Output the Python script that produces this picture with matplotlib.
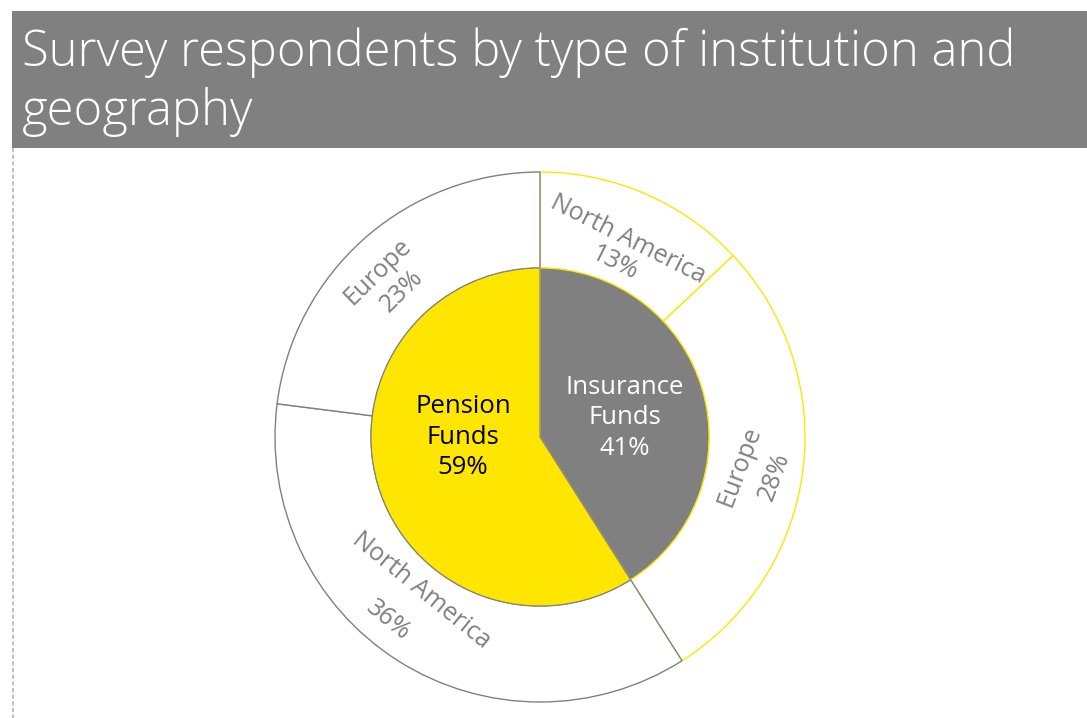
import matplotlib
matplotlib.use("Agg")
import matplotlib.pyplot as plt
from matplotlib.patches import Rectangle

W, H = 1087, 718

title_lines = ["Survey respondents by type of institution and", "geography"]
inner_labels = ["Insurance\nFunds\n41%", "Pension\nFunds\n59%"]
inner_values = [41, 59]
outer_regions = ["North America", "Europe", "North America", "Europe"]
outer_values = [13, 28, 36, 23]

GREY = "#808080"
YELLOW = "#FFE600"

fig = plt.figure(figsize=(W / 100, H / 100), dpi=100)
ax = fig.add_axes([0, 0, 1, 1])

def py(y):
    return H - y

cx, cy = 540, py(437)
R_out, R_in = 265, 169

# Outer ring
wedges, _ = ax.pie(outer_values, radius=R_out, center=(cx, cy), startangle=90, counterclock=False,
                   colors=["white"] * 4, wedgeprops=dict(width=R_out - R_in, linewidth=1.0),
                   frame=True)
for w, ec in zip(wedges, [YELLOW, YELLOW, GREY, GREY]):
    w.set_edgecolor(ec)

# Inner pie
wedges2, _ = ax.pie(inner_values, radius=R_in, center=(cx, cy), startangle=90, counterclock=False,
                    colors=[GREY, YELLOW], wedgeprops=dict(linewidth=0.8), frame=True)
wedges2[0].set_edgecolor(YELLOW)
wedges2[1].set_edgecolor(GREY)

ax.set_xlim(0, W)
ax.set_ylim(0, H)
ax.set_aspect("equal")
ax.axis("off")

# Title banner
ax.add_patch(Rectangle((12, py(148)), W - 12, 137, facecolor=GREY, edgecolor="none", zorder=1))
ax.text(22, py(66), title_lines[0], color="white", fontsize=35.2, family="Open Sans",
        fontweight="light", va="baseline", ha="left", zorder=2)
ax.text(22, py(125), title_lines[1], color="white", fontsize=35.2, family="Open Sans",
        fontweight="light", va="baseline", ha="left", zorder=2)

# dashed left line
ax.plot([13, 13], [py(148), 0], color="#b5b5b5", lw=1.2, ls=(0, (2.5, 1.5)), zorder=1)

# Outer labels: (line1 center, line2 center, rotation)
outer_pos = [((628, 239), (615, 263), -26.7),
             ((740, 466), (774, 477), 69.4),
             ((421, 590), (388, 620), -39),
             ((378, 272), (402, 291), 44.4)]
for reg, val, (p1, p2, rot) in zip(outer_regions, outer_values, outer_pos):
    ax.text(p1[0], py(p1[1]), reg, rotation=rot, rotation_mode="anchor", ha="center", va="center",
            color=GREY, fontsize=18, family="Open Sans")
    ax.text(p2[0], py(p2[1]), f"{val}%", rotation=rot, rotation_mode="anchor", ha="center",
            va="center", color=GREY, fontsize=18, family="Open Sans")

# Inner labels
ax.text(625, py(418), inner_labels[0], ha="center", va="center", multialignment="center",
        color="white", fontsize=18.5, family="Open Sans", linespacing=1.28)
ax.text(463, py(437), inner_labels[1], ha="center", va="center", multialignment="center",
        color="black", fontsize=18.5, family="Open Sans", linespacing=1.28)

fig.savefig("out.png", dpi=100, facecolor="white")
